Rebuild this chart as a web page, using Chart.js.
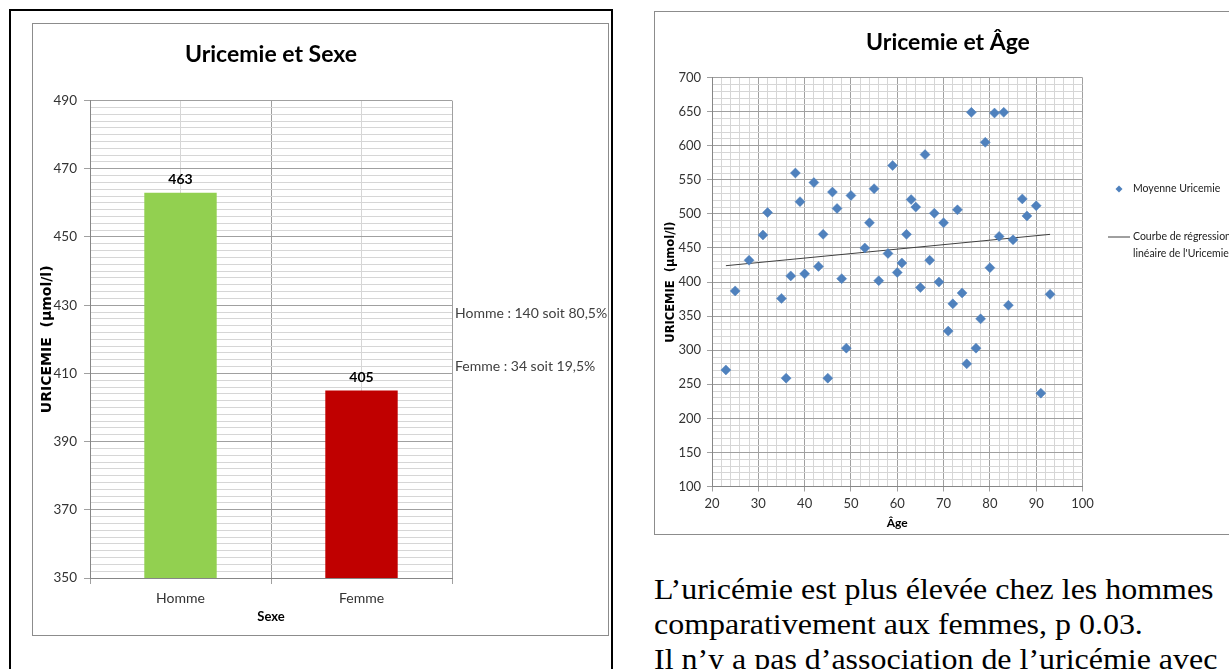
<!DOCTYPE html>
<html>
<head>
<meta charset="utf-8">
<script src="https://cdn.jsdelivr.net/npm/chart.js@4.4.1/dist/chart.umd.min.js"></script>
<style>
  body { margin: 0; background: #fff; width: 1229px; height: 669px; overflow: hidden; position: relative;
         font-family: Lato, 'Open Sans', sans-serif; }
  .abs { position: absolute; }
  #outer { left: 9px; top: 9px; width: 600px; height: 700px; border: 2px solid #000; }
  #frameL { left: 32px; top: 23px; width: 575px; height: 611px; border: 1px solid #8c8c8c; }
  #frameR { left: 654px; top: 11px; width: 620px; height: 522px; border: 1px solid #8c8c8c; }
  #sexChart { left: 32px; top: 23px; }
  #ageChart { left: 654px; top: 11px; }
  .note { font-size: 14px; color: #404040; white-space: nowrap; line-height: 18px; }
  #para { left: 654px; top: 571px; font-family: 'Liberation Serif', 'Times New Roman', serif; font-size: 30px;
          line-height: 35px; color: #000; white-space: nowrap; transform: scaleX(1.065); transform-origin: left top; }
</style>
</head>
<body>
<div id="outer" class="abs"></div>
<div id="frameL" class="abs"></div>
<div id="frameR" class="abs"></div>
<canvas id="sexChart" class="abs" width="576" height="612"></canvas>
<canvas id="ageChart" class="abs" width="588" height="523"></canvas>
<div id="note0" class="abs note" style="left:455px; top:304px;"></div>
<div id="note1" class="abs note" style="left:455px; top:357px;"></div>
<div id="para" class="abs">L’uricémie est plus élevée chez les hommes<br>comparativement aux femmes, p 0.03.<br>Il n’y a pas d’association de l’uricémie avec</div>

<script>
// ---- data ----
const sexLabels = ['Homme', 'Femme'];
const sexMeans = [463, 405];
const sexColors = ['#92D050', '#C00000'];
const sexNotes = ['Homme : 140 soit 80,5%', 'Femme : 34 soit 19,5%'];

const ages = [23, 25, 28, 31, 32, 35, 36, 37, 38, 39, 40, 42, 43, 44, 45, 46, 47, 48, 49, 50,
              53, 54, 55, 56, 58, 59, 60, 61, 62, 63, 64, 65, 66, 67, 68, 69, 70, 71, 72, 73,
              74, 75, 76, 77, 78, 79, 80, 81, 82, 83, 84, 85, 87, 88, 90, 91, 93];
const uricemie = [271, 387, 432, 469, 502, 376, 259, 409, 560, 518, 412, 546, 423, 470, 259, 532, 508, 405, 303, 527,
                  450, 487, 537, 402, 442, 571, 414, 428, 470, 521, 510, 392, 587, 432, 501, 400, 487, 328, 368, 506,
                  384, 280, 649, 303, 346, 605, 421, 648, 467, 649, 366, 462, 522, 497, 512, 237, 382];
const regAges = [23, 93];
const regValues = [424, 470];

const sexAxis = { min: 350, max: 490, major: 20, minor: 2 };
const ageAxisX = { min: 20, max: 100, major: 10, minor: 2 };
const ageAxisY = { min: 100, max: 700, major: 50, minor: 10 };

const FONT = "Lato, 'Open Sans', sans-serif";
const MAJOR = '#a0a0a0';
const MINOR = '#d6d6d6';

sexNotes.forEach((t, i) => { document.getElementById('note' + i).textContent = t; });

// a tick is major when it is a whole number of major steps away from the axis minimum
function isMajor(v, axis) {
    const k = (v - axis.min) / axis.major;
    return Math.abs(k - Math.round(k)) < 1e-6;
}

// value labels above bars
const barValueLabels = {
    id: 'barValueLabels',
    afterDatasetsDraw(chart) {
        const ctx = chart.ctx;
        const meta = chart.getDatasetMeta(0);
        ctx.save();
        ctx.font = 'bold 14px ' + FONT;
        ctx.fillStyle = '#000';
        ctx.textAlign = 'center';
        ctx.textBaseline = 'middle';
        meta.data.forEach((bar, i) => {
            ctx.fillText(String(sexMeans[i]), bar.x, bar.y - 13);
        });
        ctx.restore();
    }
};

// legend drawn at the right of the scatter plot
const ageLegend = {
    id: 'ageLegend',
    afterDraw(chart) {
        const ctx = chart.ctx;
        const right = chart.chartArea.right;
        const ds = chart.data.datasets;
        ctx.save();
        ctx.font = '10.5px ' + FONT;
        ctx.textBaseline = 'middle';
        // diamond
        const dx = right + 36.5, dy = 178;
        ctx.beginPath();
        ctx.moveTo(dx, dy - 3.5); ctx.lineTo(dx + 3.5, dy); ctx.lineTo(dx, dy + 3.5); ctx.lineTo(dx - 3.5, dy);
        ctx.closePath();
        ctx.fillStyle = ds[0].backgroundColor;
        ctx.fill();
        ctx.fillStyle = '#222';
        ctx.fillText(ds[0].label, right + 50.5, dy);
        // line
        ctx.strokeStyle = ds[1].borderColor;
        ctx.lineWidth = 1;
        ctx.beginPath();
        ctx.moveTo(right + 25.5, 226); ctx.lineTo(right + 47.5, 226);
        ctx.stroke();
        ds[1].label.forEach((t, i) => ctx.fillText(t, right + 50.5, 226 + i * 17));
        ctx.restore();
    }
};

// ---- Uricemie et Sexe ----
new Chart(document.getElementById('sexChart'), {
    type: 'bar',
    data: {
        labels: sexLabels,
        datasets: [{
            data: sexMeans,
            backgroundColor: sexColors,
            borderWidth: 0,
            barPercentage: 0.4,
            categoryPercentage: 1
        }]
    },
    options: {
        responsive: false,
        animation: false,
        layout: { padding: { top: 0, right: 156, bottom: 0, left: 0 } },
        plugins: {
            legend: { display: false },
            tooltip: { enabled: false },
            title: {
                display: true,
                fullSize: false,
                text: 'Uricemie et Sexe',
                color: '#000',
                font: { family: FONT, size: 23, weight: 'bold' },
                padding: { top: 18, bottom: 32 }
            }
        },
        scales: {
            x: {
                grid: { offset: true, color: MAJOR, tickColor: MAJOR, tickLength: 6 },
                border: { color: '#868686' },
                ticks: { color: '#333', font: { family: FONT, size: 14 }, padding: 6 },
                title: { display: true, text: 'Sexe', color: '#000', font: { family: FONT, size: 13, weight: 'bold' }, padding: { top: 0, bottom: 10 } },
                afterFit(scale) { scale.height = 57; }
            },
            x2: {
                type: 'category',
                position: 'top',
                labels: sexLabels,
                offset: true,
                grid: { offset: false, color: MINOR, drawTicks: false },
                border: { display: false },
                ticks: { display: false },
                afterFit(scale) { scale.height = 0; }
            },
            y: {
                min: sexAxis.min,
                max: sexAxis.max,
                ticks: {
                    stepSize: sexAxis.minor,
                    autoSkip: false,
                    color: '#333',
                    font: { family: FONT, size: 13.5 },
                    padding: 7,
                    callback: v => isMajor(v, sexAxis) ? v : ''
                },
                grid: {
                    color: c => isMajor(c.tick.value, sexAxis) ? MAJOR : MINOR,
                    tickColor: c => isMajor(c.tick.value, sexAxis) ? MAJOR : 'rgba(0,0,0,0)',
                    tickLength: 6
                },
                border: { color: '#868686' },
                title: {
                    display: true,
                    text: 'URICEMIE  (µmol/l)',
                    color: '#000',
                    font: { family: "'DejaVu Sans', sans-serif", size: 14, weight: 'bold' },
                    padding: { top: 7, bottom: 0 }
                },
                afterFit(scale) { scale.width = 58; }
            }
        }
    },
    plugins: [barValueLabels]
});

// ---- Uricemie et Âge ----
new Chart(document.getElementById('ageChart'), {
    type: 'scatter',
    data: {
        datasets: [{
            label: 'Moyenne Uricemie',
            data: ages.map((a, i) => ({ x: a, y: uricemie[i] })),
            pointStyle: 'rectRot',
            radius: 5,
            backgroundColor: '#4F81BD',
            borderColor: '#4F81BD',
            borderWidth: 0.5
        }, {
            type: 'line',
            label: ['Courbe de régression', 'linéaire de l\'Uricemie'],
            data: regAges.map((a, i) => ({ x: a, y: regValues[i] })),
            borderColor: '#404040',
            borderWidth: 1,
            pointRadius: 0,
            fill: false
        }]
    },
    options: {
        responsive: false,
        animation: false,
        layout: { padding: 0 },
        plugins: {
            legend: { display: false },
            tooltip: { enabled: false },
            title: {
                display: true,
                text: 'Uricemie et Âge',
                color: '#000',
                font: { family: FONT, size: 23, weight: 'bold' },
                padding: { top: 18, bottom: 21 }
            }
        },
        scales: {
            x: {
                type: 'linear',
                min: ageAxisX.min,
                max: ageAxisX.max,
                ticks: {
                    stepSize: ageAxisX.minor,
                    autoSkip: false,
                    maxRotation: 0,
                    color: '#333',
                    font: { family: FONT, size: 13 },
                    padding: 5,
                    callback: v => isMajor(v, ageAxisX) ? v : ''
                },
                grid: {
                    color: c => isMajor(c.tick.value, ageAxisX) ? MAJOR : MINOR,
                    tickColor: c => isMajor(c.tick.value, ageAxisX) ? MAJOR : 'rgba(0,0,0,0)',
                    tickLength: 5
                },
                border: { color: '#868686' },
                title: { display: true, text: 'Âge', color: '#000', font: { family: FONT, size: 12, weight: 'bold' }, padding: { top: 0, bottom: 4 } },
                afterFit(scale) { scale.height = 47.5; }
            },
            y: {
                min: ageAxisY.min,
                max: ageAxisY.max,
                ticks: {
                    stepSize: ageAxisY.minor,
                    autoSkip: false,
                    color: '#333',
                    font: { family: FONT, size: 13 },
                    padding: 6,
                    callback: v => isMajor(v, ageAxisY) ? v : ''
                },
                grid: {
                    color: c => isMajor(c.tick.value, ageAxisY) ? MAJOR : MINOR,
                    tickColor: c => isMajor(c.tick.value, ageAxisY) ? MAJOR : 'rgba(0,0,0,0)',
                    tickLength: 5
                },
                border: { color: '#868686' },
                title: {
                    display: true,
                    text: 'URICEMIE  (µmol/l)',
                    color: '#000',
                    font: { family: "'DejaVu Sans', sans-serif", size: 11.5, weight: 'bold' },
                    padding: { top: 10, bottom: 0 }
                },
                afterFit(scale) { scale.width = 58; }
            },
            // empty right-hand box that keeps room for the legend
            yLegend: {
                position: 'right',
                display: true,
                grid: { drawOnChartArea: false, drawTicks: false },
                border: { display: false },
                ticks: { display: false },
                afterFit(scale) { scale.width = 159.5; }
            }
        }
    },
    plugins: [ageLegend]
});
</script>
</body>
</html>
